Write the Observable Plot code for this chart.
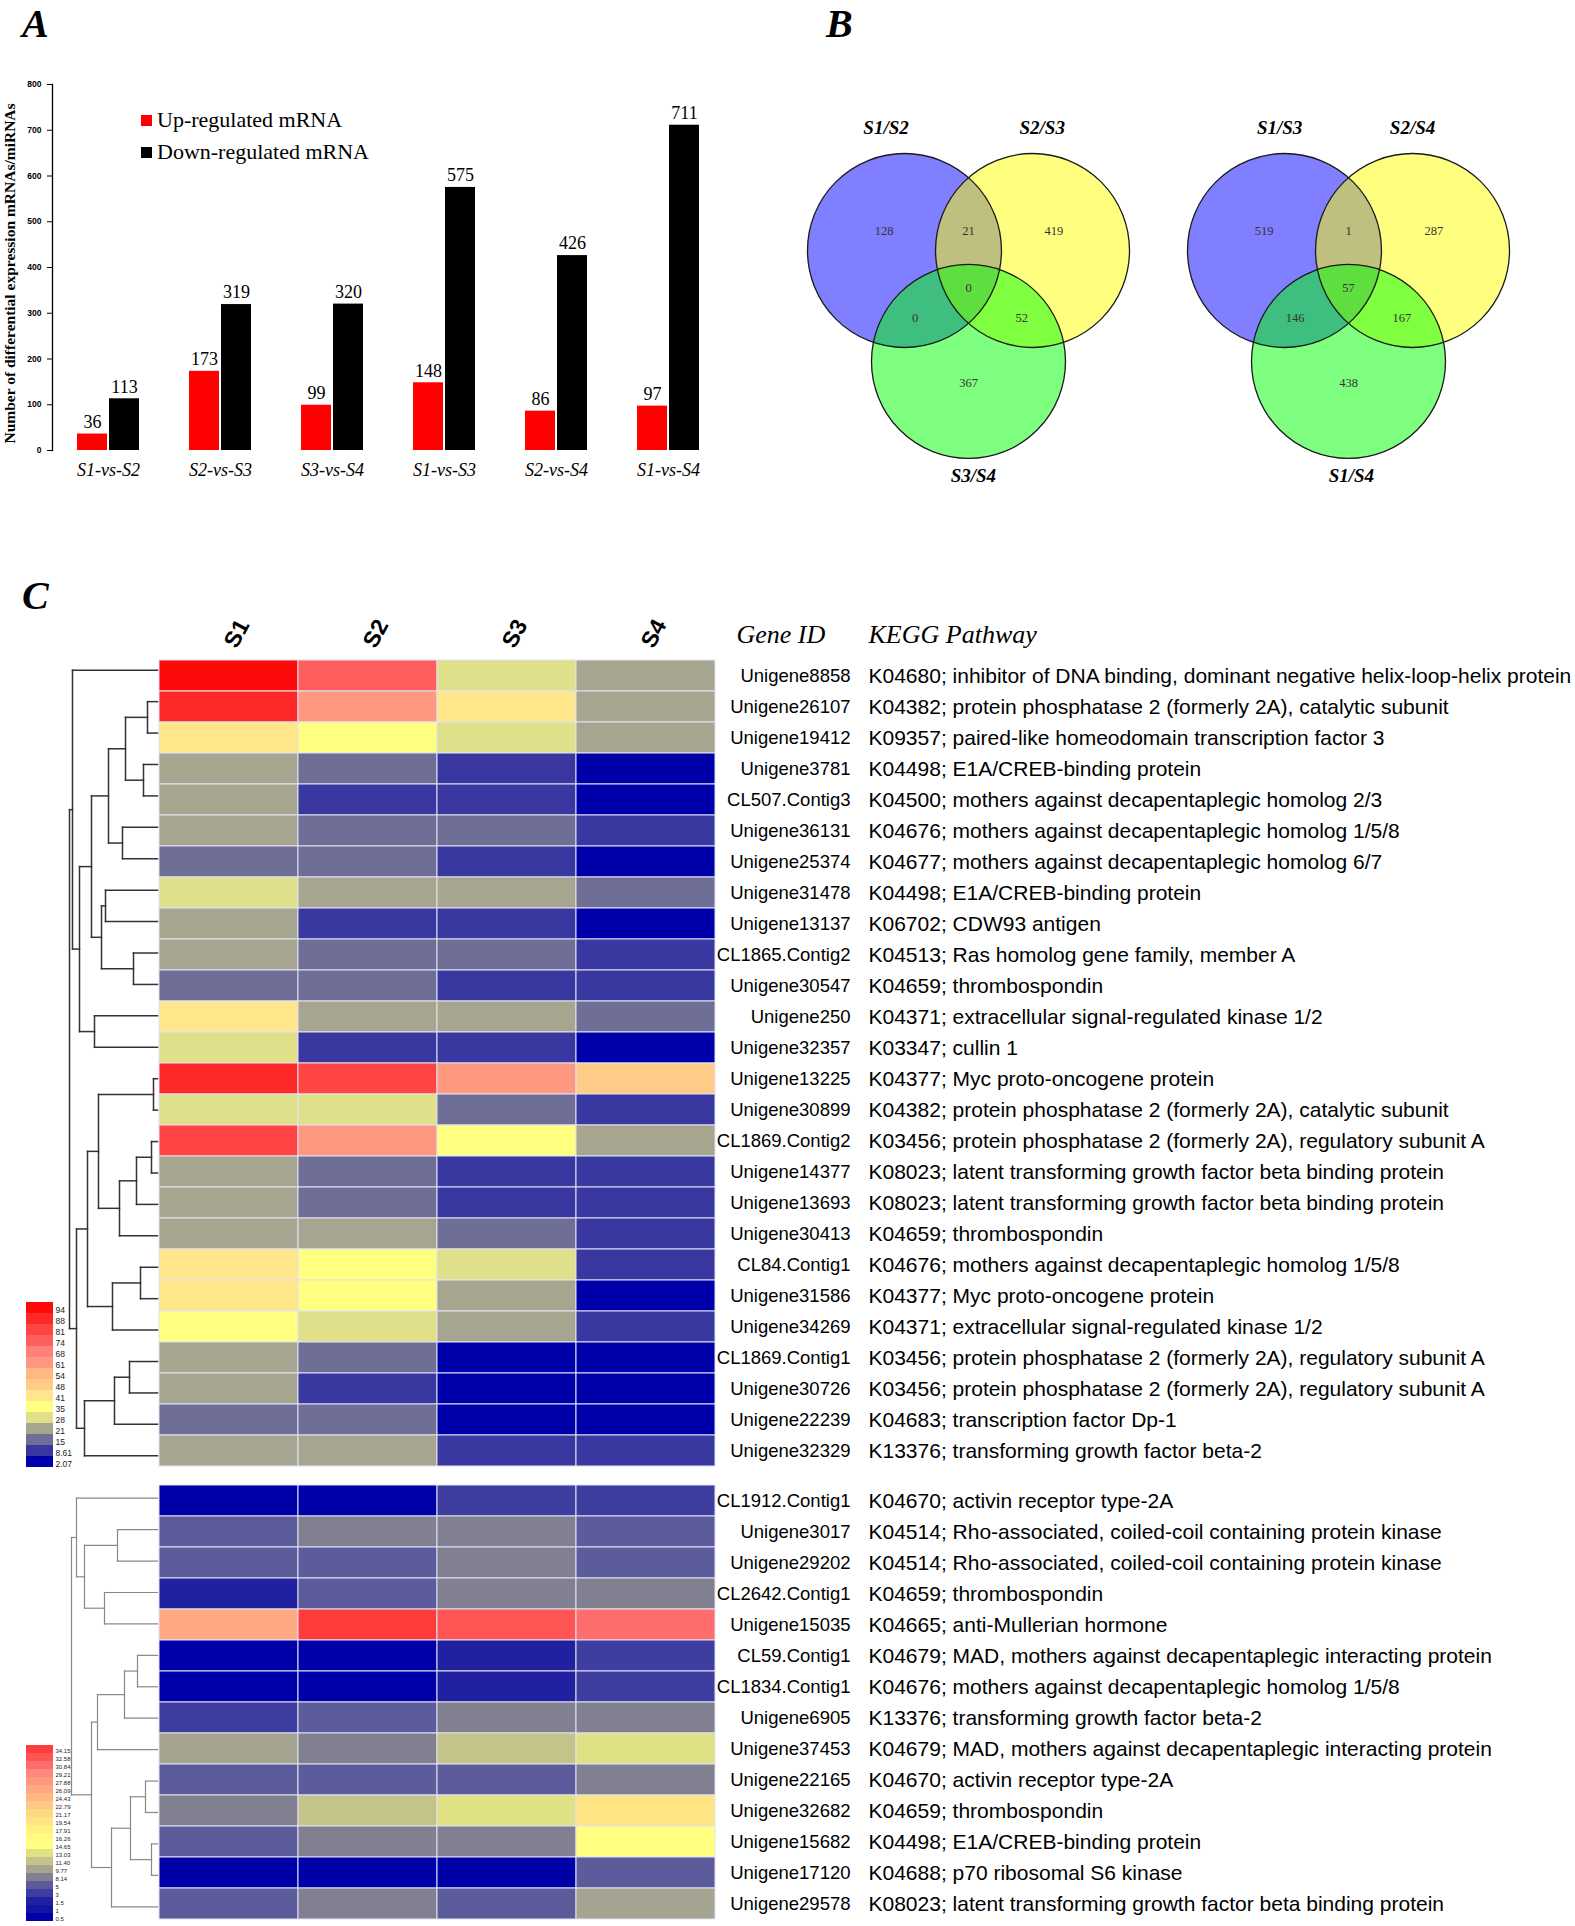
<!DOCTYPE html>
<html><head><meta charset="utf-8">
<script src="https://cdn.jsdelivr.net/npm/d3@7"></script>
<script src="https://cdn.jsdelivr.net/npm/@observablehq/plot@0.6"></script>
<style>
html,body{margin:0;padding:0;background:#fff;overflow:hidden;}
#root{position:relative;width:1575px;height:1926px;overflow:hidden;background:#fff;}
#root > *{position:absolute;}
.letter{font-family:"Liberation Serif",serif;font-style:italic;font-weight:bold;font-size:40px;line-height:1;}
.leg{font-family:"Liberation Serif",serif;font-size:22px;line-height:1;display:flex;align-items:center;white-space:nowrap;}
.leg span.sw{display:inline-block;width:11px;height:11px;margin-right:5px;}
</style></head>
<body><div id="root"></div>
<script>
// ---------- Panel A data ----------
const comparisons = ["S1-vs-S2","S2-vs-S3","S3-vs-S4","S1-vs-S3","S2-vs-S4","S1-vs-S4"];
const upRegulated = [36,173,99,148,86,97];
const downRegulated = [113,319,320,575,426,711];
const yTicksA = [0,100,200,300,400,500,600,700,800];
const yLabelA = "Number of differential expression mRNAs/miRNAs";
const seriesNames = ["Up-regulated mRNA","Down-regulated mRNA"];

// ---------- Panel B data ----------
const venn1Labels = ["S1/S2","S2/S3","S3/S4"];
const venn1Counts = [128,21,419,0,0,52,367];   // A, AB, B, ABC, AC, BC, C
const venn2Labels = ["S1/S3","S2/S4","S1/S4"];
const venn2Counts = [519,1,287,57,146,167,438];
const vennColors = ["#0000ff","#ffff00","#00ff00"];
// Venn layout (unit = circle radius)
const circleX = [-0.66,0.66,0];
const circleY = [0,0,-1.144];
const regionX = [-0.87,0,0.88,0,-0.55,0.55,0];
const regionY = [0.2,0.2,0.2,-0.39,-0.7,-0.7,-1.37];
const venn1LabelX = [-0.85,0.76,0.05];
const venn2LabelX = [-0.71,0.66,0.03];
const setLabelY = [1.26,1.26,-2.32];

// ---------- Panel C data ----------
const samples = ["S1","S2","S3","S4"];
const topGenes = ["Unigene8858","Unigene26107","Unigene19412","Unigene3781","CL507.Contig3","Unigene36131","Unigene25374","Unigene31478","Unigene13137","CL1865.Contig2","Unigene30547","Unigene250","Unigene32357","Unigene13225","Unigene30899","CL1869.Contig2","Unigene14377","Unigene13693","Unigene30413","CL84.Contig1","Unigene31586","Unigene34269","CL1869.Contig1","Unigene30726","Unigene22239","Unigene32329"];
const topKegg = [
"K04680; inhibitor of DNA binding, dominant negative helix-loop-helix protein",
"K04382; protein phosphatase 2 (formerly 2A), catalytic subunit",
"K09357; paired-like homeodomain transcription factor 3",
"K04498; E1A/CREB-binding protein",
"K04500; mothers against decapentaplegic homolog 2/3",
"K04676; mothers against decapentaplegic homolog 1/5/8",
"K04677; mothers against decapentaplegic homolog 6/7",
"K04498; E1A/CREB-binding protein",
"K06702; CDW93 antigen",
"K04513; Ras homolog gene family, member A",
"K04659; thrombospondin",
"K04371; extracellular signal-regulated kinase 1/2",
"K03347; cullin 1",
"K04377; Myc proto-oncogene protein",
"K04382; protein phosphatase 2 (formerly 2A), catalytic subunit",
"K03456; protein phosphatase 2 (formerly 2A), regulatory subunit A",
"K08023; latent transforming growth factor beta binding protein",
"K08023; latent transforming growth factor beta binding protein",
"K04659; thrombospondin",
"K04676; mothers against decapentaplegic homolog 1/5/8",
"K04377; Myc proto-oncogene protein",
"K04371; extracellular signal-regulated kinase 1/2",
"K03456; protein phosphatase 2 (formerly 2A), regulatory subunit A",
"K03456; protein phosphatase 2 (formerly 2A), regulatory subunit A",
"K04683; transcription factor Dp-1",
"K13376; transforming growth factor beta-2"];
const topS1 = [94,88,41,21,21,21,15,28,21,21,15,41,28,88,28,81,21,21,21,41,41,35,21,21,15,21];
const topS2 = [74,61,35,15,8.61,15,15,21,8.61,15,15,21,8.61,81,28,61,15,15,21,35,35,28,15,8.61,15,21];
const topS3 = [28,41,28,8.61,8.61,15,8.61,21,8.61,15,8.61,21,8.61,61,15,35,8.61,8.61,15,28,21,21,2.07,2.07,2.07,8.61];
const topS4 = [21,21,21,2.07,2.07,8.61,2.07,15,2.07,8.61,8.61,15,2.07,48,8.61,21,8.61,8.61,8.61,8.61,2.07,8.61,2.07,2.07,2.07,8.61];
const topLevels = [2.07,8.61,15,21,28,35,41,48,54,61,68,74,81,88,94];
const topLevelLabels = ["2.07","8.61","15","21","28","35","41","48","54","61","68","74","81","88","94"];
const topColors = ["#0000aa","#3838a0","#6e6e96","#a6a690","#e0e08a","#ffff80","#ffe68a","#ffcc88","#ffb884","#ff9880","#ff8078","#ff5e5e","#ff4444","#ff2828","#ff0a0a"];
// top dendrogram merges: child A, child B, height
const topMergeA = ["r1","r3","n0","r5","n2","r7","r9","n5","n4","r11","n8","r0","r13","r15","n13","n14","n12","r19","n17","n16","r22","n20","n21","n19","n11"];
const topMergeB = ["r2","r4","n1","r6","n3","r8","r10","n6","n7","r12","n9","n10","r14","r16","r17","r18","n15","r20","r21","n18","r23","r24","r25","n22","n23"];
const topMergeH = [10,14,32,35,49,52,24,56,66,63,78,85,4,6,21,38,59,17,45,70,28,43,73,81,88];

const bottomGenes = ["CL1912.Contig1","Unigene3017","Unigene29202","CL2642.Contig1","Unigene15035","CL59.Contig1","CL1834.Contig1","Unigene6905","Unigene37453","Unigene22165","Unigene32682","Unigene15682","Unigene17120","Unigene29578"];
const bottomKegg = [
"K04670; activin receptor type-2A",
"K04514; Rho-associated, coiled-coil containing protein kinase",
"K04514; Rho-associated, coiled-coil containing protein kinase",
"K04659; thrombospondin",
"K04665; anti-Mullerian hormone",
"K04679; MAD, mothers against decapentaplegic interacting protein",
"K04676; mothers against decapentaplegic homolog 1/5/8",
"K13376; transforming growth factor beta-2",
"K04679; MAD, mothers against decapentaplegic interacting protein",
"K04670; activin receptor type-2A",
"K04659; thrombospondin",
"K04498; E1A/CREB-binding protein",
"K04688; p70 ribosomal S6 kinase",
"K08023; latent transforming growth factor beta binding protein"];
const bottomS1 = [0.5,5,5,1.5,26.09,0.5,0.5,3,9.77,5,8.14,5,0.5,5];
const bottomS2 = [0.5,8.14,5,5,34.15,0.5,0.5,5,8.14,5,11.40,8.14,0.5,8.14];
const bottomS3 = [3,8.14,8.14,8.14,32.58,1.5,1.5,8.14,11.40,5,13.03,8.14,0.5,5];
const bottomS4 = [3,5,5,8.14,30.84,3,3,8.14,13.03,8.14,19.54,14.65,5,9.77];
const bottomLevels = [0.5,1,1.5,3,5,8.14,9.77,11.40,13.03,14.65,16.26,17.91,19.54,21.17,22.79,24.43,26.09,27.88,29.21,30.84,32.58,34.15];
const bottomLevelLabels = ["0.5","1","1.5","3","5","8.14","9.77","11.40","13.03","14.65","16.26","17.91","19.54","21.17","22.79","24.43","26.09","27.88","29.21","30.84","32.58","34.15"];
const bottomColors = ["#0000a8","#1414a4","#2020a0","#3e3ea0","#5c5c9c","#808090","#a4a490","#c4c48a","#e0e084","#ffff80","#fffa80","#fff080","#ffe484","#ffd884","#ffc884","#ffb884","#ffa882","#ff9880","#ff8880","#ff6c6c","#ff5454","#ff3c3c"];
const bottomMergeA = ["r1","r3","n0","r0","r5","n4","n5","r9","r11","n7","n9","n6","n3"];
const bottomMergeB = ["r2","r4","n1","n2","r6","r7","r8","r10","r12","n8","r13","n10","n11"];
const bottomMergeH = [40,53,73,81,20,33,60,12,6,27,46,66,86];

// ---------- helpers ----------
const root = document.getElementById("root");
function place(node, left, top) { node.style.position = "absolute"; node.style.left = left + "px"; node.style.top = top + "px"; root.appendChild(node); return node; }
function html(str, left, top) { const d = document.createElement("div"); d.innerHTML = str; return place(d.firstElementChild ? d.firstElementChild : d, left, top); }
const SERIF = "Liberation Serif, Times New Roman, serif";
const SANS = "Liberation Sans, Arial, sans-serif";

// ---------- Panel A ----------
const barRows = comparisons.map((c, i) => ({c, up: upRegulated[i], down: downRegulated[i]}));
const plotA = Plot.plot({
  width: 740, height: 500, marginLeft: 52, marginTop: 84, marginBottom: 50, marginRight: 16,
  style: {background: "transparent", fontFamily: SERIF, overflow: "visible"},
  x: {domain: comparisons, padding: 0, axis: null},
  y: {domain: [0, 800], axis: null},
  marks: [
    Plot.barY(barRows, {x: "c", y: "up", fill: "#ff0000", insetLeft: 25, insetRight: 57}),
    Plot.barY(barRows, {x: "c", y: "down", fill: "#000000", insetLeft: 57, insetRight: 25}),
    Plot.text(barRows, {x: "c", y: "up", text: "up", dx: -16, dy: -12, fontSize: 18, fontFamily: SERIF, fill: "#000"}),
    Plot.text(barRows, {x: "c", y: "down", text: "down", dx: 16, dy: -12, fontSize: 18, fontFamily: SERIF, fill: "#000"}),
    Plot.axisX({anchor: "bottom", tickSize: 0, tickPadding: 13, fontSize: 18, fontFamily: SERIF, fontStyle: "italic", label: null}),
    Plot.axisY({ticks: yTicksA, tickSize: 5, tickPadding: 6, fontSize: 8.5, fontFamily: SANS, fontWeight: "bold", label: null, tickFormat: d => d}),
    Plot.frame({anchor: "left", stroke: "#000", strokeWidth: 1.3}),
    Plot.text([yLabelA], {frameAnchor: "left", textAnchor: "middle", rotate: -90, dx: -42, dy: 6, fontSize: 15.5, fontWeight: "bold", fontFamily: SERIF})
  ]
});
place(plotA, 0, 0);
html(`<div class="leg"><span class="sw" style="background:#ff0000"></span>${seriesNames[0]}</div>`, 141, 109);
html(`<div class="leg"><span class="sw" style="background:#000"></span>${seriesNames[1]}</div>`, 141, 141);
html(`<div class="letter">A</div>`, 22, 4);

// ---------- Panel B ----------
function venn(labels, counts, labelX) {
  const circles = labels.map((name, i) => ({name, x: circleX[i], y: circleY[i], color: vennColors[i]}));
  const regions = counts.map((n, i) => ({n, x: regionX[i], y: regionY[i]}));
  const setLabs = labels.map((name, i) => ({name, x: labelX[i], y: setLabelY[i]}));
  return Plot.plot({
    width: 380, height: 400, margin: 0,
    style: {background: "transparent", overflow: "visible"},
    x: {domain: [-190/97, 190/97], axis: null},
    y: {domain: [-250/97, 150/97], axis: null},
    marks: [
      Plot.dot(circles, {x: "x", y: "y", r: 97, fill: "color", fillOpacity: 0.5, stroke: "none"}),
      Plot.dot(circles, {x: "x", y: "y", r: 97, fill: "none", stroke: "#1a1a1a", strokeWidth: 1.3}),
      Plot.text(regions, {x: "x", y: "y", text: "n", fontSize: 12.5, fontFamily: SERIF, fill: "#333"}),
      Plot.text(setLabs, {x: "x", y: "y", text: "name", fontSize: 19, fontFamily: SERIF, fontStyle: "italic", fontWeight: "bold", fill: "#000"})
    ]
  });
}
place(venn(venn1Labels, venn1Counts, venn1LabelX), 778, 100);
place(venn(venn2Labels, venn2Counts, venn2LabelX), 1158, 100);
html(`<div class="letter">B</div>`, 826, 4);

// ---------- Panel C ----------
function cellsOf(genes, cols) {
  return genes.flatMap((g, i) => samples.map((s, j) => ({gene: g, sample: s, value: cols[j][i]})));
}
function heat(genes, kegg, cols, levels, colors, height, marginTop, header) {
  const marks = [
    Plot.cell(cellsOf(genes, cols), {x: "sample", y: "gene", fill: "value", stroke: "#e2e2f2", strokeWidth: 1}),
    Plot.text(genes, {y: d => d, text: d => d, frameAnchor: "right", dx: 134, textAnchor: "end", fontSize: 18.5, fontFamily: SANS, fill: "#000"}),
    Plot.text(kegg, {y: (d, i) => genes[i], text: d => d, frameAnchor: "right", dx: 152, textAnchor: "start", fontSize: 21, fontFamily: SANS, fill: "#000"})
  ];
  if (header) {
    marks.push(
      Plot.text(samples, {x: d => d, text: d => d, frameAnchor: "top", dy: -25, rotate: -62, fontSize: 23, fontWeight: "bold", fontFamily: SANS, fill: "#000"}),
      Plot.text(["Gene ID"], {frameAnchor: "top-right", dx: 20, dy: -30, textAnchor: "start", fontSize: 26, fontStyle: "italic", fontFamily: SERIF, fill: "#000"}),
      Plot.text(["KEGG Pathway"], {frameAnchor: "top-right", dx: 152, dy: -30, textAnchor: "start", fontSize: 26, fontStyle: "italic", fontFamily: SERIF, fill: "#000"})
    );
  }
  return Plot.plot({
    width: 1417, height, marginTop, marginBottom: 0, marginLeft: 0, marginRight: 859,
    style: {background: "transparent", overflow: "visible"},
    x: {domain: samples, padding: 0, axis: null},
    y: {domain: genes, padding: 0, axis: null},
    color: {type: "ordinal", domain: levels, range: colors},
    marks
  });
}
function dendroSegments(A, B, H) {
  const nodes = [];
  const pos = id => id[0] === "r" ? {y: +id.slice(1), h: 0} : nodes[+id.slice(1)];
  const segs = [];
  A.forEach((a, k) => {
    const pa = pos(a), pb = pos(B[k]), h = H[k];
    segs.push({x1: pa.h, y1: pa.y, x2: h, y2: pa.y});
    segs.push({x1: pb.h, y1: pb.y, x2: h, y2: pb.y});
    segs.push({x1: h, y1: pa.y, x2: h, y2: pb.y});
    nodes[k] = {y: (pa.y + pb.y) / 2, h};
  });
  return segs;
}
function dendro(A, B, H, n, height, stroke, sw) {
  return Plot.plot({
    width: 98, height, margin: 0,
    style: {background: "transparent", overflow: "visible"},
    x: {domain: [97, -1], axis: null},
    y: {domain: [-0.5, n - 0.5], reverse: true, axis: null},
    marks: [
      Plot.link(dendroSegments(A, B, H), {x1: "x1", y1: "y1", x2: "x2", y2: "y2", stroke, strokeWidth: sw, strokeLinecap: "square"})
    ]
  });
}
function legendBar(levels, labels, colors, height, fontSize) {
  const dom = labels.slice().reverse();
  return Plot.plot({
    width: 64, height, margin: 0, marginRight: 37,
    style: {background: "transparent", overflow: "visible"},
    x: {domain: [0, 1], axis: null},
    y: {domain: dom, padding: 0, axis: null},
    color: {type: "ordinal", domain: levels, range: colors},
    marks: [
      Plot.barX(levels, {x1: 0, x2: 1, y: (d, i) => labels[i], fill: d => d}),
      Plot.text(levels, {x: 1, y: (d, i) => labels[i], text: (d, i) => labels[i], dx: 2, dy: 2, textAnchor: "start", fontSize, fontFamily: SANS, fill: "#222"})
    ]
  });
}

html(`<div class="letter">C</div>`, 22, 576);
place(heat(topGenes, topKegg, [topS1, topS2, topS3, topS4], topLevels, topColors, 877, 60, true), 158, 594);
place(heat(bottomGenes, bottomKegg, [bottomS1, bottomS2, bottomS3, bottomS4], bottomLevels, bottomColors, 440, 0, false), 158, 1482);
place(dendro(topMergeA, topMergeB, topMergeH, topGenes.length, 817, "#333", 1.5), 60, 654);
place(dendro(bottomMergeA, bottomMergeB, bottomMergeH, bottomGenes.length, 440, "#888", 1.2), 60, 1482);
place(legendBar(topLevels, topLevelLabels, topColors, 173, 8.5), 26, 1298);
place(legendBar(bottomLevels, bottomLevelLabels, bottomColors, 180, 6), 26, 1743);
</script>
</body></html>
